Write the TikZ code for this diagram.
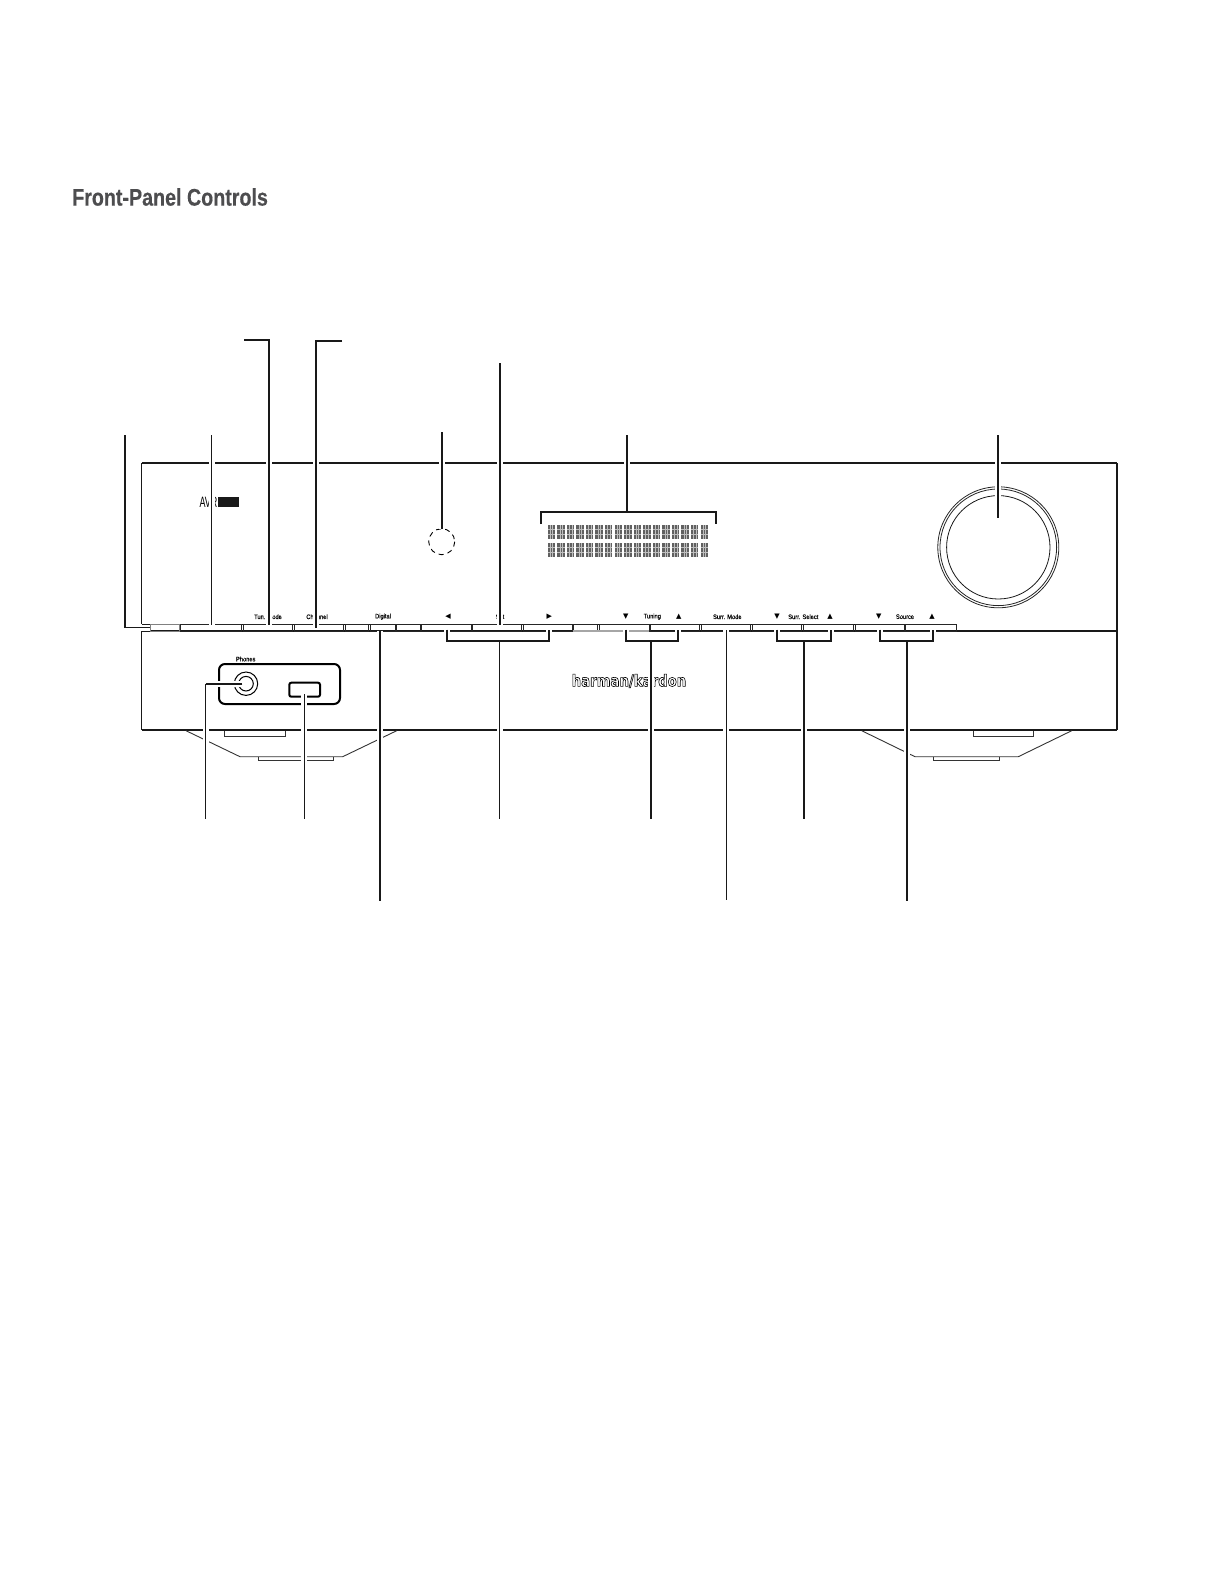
\documentclass[tikz,border=0pt]{standalone}
\usepackage{fontspec}
\setmainfont{Liberation Sans}
\newfontfamily\titlefont[FakeStretch=0.82,FakeBold=0.4]{Liberation Sans}
\newfontfamily\narrowfont[FakeStretch=0.88,FakeBold=0.1]{Liberation Sans}
\newfontfamily\avrfont[FakeStretch=0.6]{Liberation Sans}
\newfontfamily\symfont{DejaVu Sans}
\newfontfamily\logofont[FakeStretch=0.83]{DejaVu Sans}
\definecolor{titlegray}{HTML}{4D4D4F}
\newcommand{\lcdchar}[2]{%
  \fill[black!62] (#1,#2) rectangle ++(7.4,14);
  \draw[black!25,line width=.5pt] (#1+2.5,#2) -- ++(0,14) (#1+5,#2) -- ++(0,14)
    (#1,#2+4.6) -- ++(7.4,0) (#1,#2+9.3) -- ++(7.4,0);}
\begin{document}
\begin{tikzpicture}[x=1pt,y=-1pt,
    panel/.style={line width=1.3pt,black!90},
    btn/.style={line width=1pt,black!85},
    foot/.style={line width=.9pt,black!80},
    lab/.style={font=\narrowfont\fontsize{6.5}{7}\selectfont,inner sep=0pt},
    sym/.style={font=\symfont\fontsize{7}{8}\selectfont,inner sep=0pt},
    halo/.style={draw=white,line width=6pt},
    wire/.style={line width=2pt,black!90},
    wirethin/.style={line width=1.5pt,black!90},
    lead/.style={preaction={halo},wire},
    leadthin/.style={preaction={halo},wirethin}]
  \useasboundingbox (0,0) rectangle (1224,1584);
  \node[anchor=west,inner sep=0pt,text=titlegray,font=\titlefont\bfseries\fontsize{24}{28}\selectfont] (title) at (72,197) {Front-Panel Controls};
  % cabinet
  \draw[panel,line width=2pt] (141.5,463.3) -- (1117,463.3);
  \draw[panel] (141.5,463.3) -- (141.5,624);
  \draw[panel] (1117,463.3) -- (1117,730);
  \draw[panel] (141.5,631) -- (141.5,730);
  \draw[panel,line width=2.5pt] (141.5,730) -- (1117,730);
  \draw[panel] (141.5,631) -- (1117,631);
  \draw[panel,line width=1.6pt] (141.5,624.3) -- (956,624.3);
  % buttons
  \draw[btn,gray] (150,624.5) rectangle (179,631);
  \foreach \xa/\xb in {180/241.7,243.3/292.7,294.3/343.3,345.3/368.7,370/395,396/420,
      421.3/471.7,472.7/521.7,523.3/572.7,573.3/597.7,599/649,650/699.3,701/750.7,
      752.3/801.7,803.3/853.3,855/904.3,905.7/956}
    \draw[btn] (\xa,624.5) rectangle (\xb,631);
  \draw[gray!70,line width=1.2pt] (573.3,631) -- (649,631);
  % feet
  \draw[foot] (186,730.7) -- (240,756.7) -- (342.7,756.7) -- (396.7,730.7);
  \draw[foot] (224.3,730.7) -- (224.3,736.3) -- (285,736.3) -- (285,730.7);
  \draw[foot] (258.3,756.7) -- (258.3,760) -- (333.3,760) -- (333.3,756.7);
  \draw[foot] (861.7,730.7) -- (915,756.7) -- (1018.3,756.7) -- (1071.7,730.7);
  \draw[foot] (973.3,730.7) -- (973.3,736.3) -- (1033.3,736.3) -- (1033.3,730.7);
  \draw[foot] (933.3,756.7) -- (933.3,760) -- (999.3,760) -- (999.3,756.7);
  % logo and sensor
  \node[anchor=west,inner sep=0pt,font=\avrfont\fontsize{15}{16}\selectfont] (avr) at (199.3,502) {AVR};
  \fill[black!90] (218.3,497) rectangle (239,507);
  \draw[line width=.9pt,dash pattern=on 5pt off 4.2pt] (441.7,541.7) circle (13);
  % display
  \foreach \i in {0,...,16} {
    \lcdchar{547.7+9.55*\i}{525}
    \lcdchar{547.7+9.55*\i}{543}
  }
  % knob
  \draw[line width=.8pt,black!85] (998.3,547.3) circle (60.5) circle (58.3);
  \draw[line width=.8pt,black!90] (998.3,547.3) circle (51.7);
  % phones and usb
  \node[lab] (phones) at (245.7,659) {Phones};
  \draw[line width=2pt,rounded corners=6pt] (219,664) rectangle (340,704);
  \draw[line width=1pt] (246,683.7) circle (11.7) circle (7.3);
  \draw[line width=2pt,rounded corners=2pt] (289.3,682.7) rectangle (320,696.7);
  % brand
  \node[font=\logofont\bfseries\fontsize{16}{18}\selectfont,inner sep=0pt] (brand) at (629,681)
    {\special{pdf:code 1 Tr 0.6 w}harman/kardon\special{pdf:code 0 Tr}};
  % strip labels
  \node[lab] (tun) at (268,616.7) {Tun. Mode};
  \node[lab] (chan) at (317,616.7) {Channel};
  \node[lab] (dig) at (383,616.7) {Digital};
  \node[lab] (set) at (500,616.7) {Set};
  \node[lab] (tuning) at (652.3,616.7) {Tuning};
  \node[lab] (smode) at (727.3,616.7) {Surr. Mode};
  \node[lab] (ssel) at (803.3,616.7) {Surr. Select};
  \node[lab] (src) at (905,616.7) {Source};
  \node[sym] (setl) at (448,616.7) {◀};
  \node[sym] (setr) at (549.3,616.7) {▶};
  \node[sym] (tund) at (625.7,616.7) {▼};
  \node[sym] (tunu) at (678.7,616.7) {▲};
  \node[sym] (seld) at (777,616.7) {▼};
  \node[sym] (selu) at (830,616.7) {▲};
  \node[sym] (srcd) at (878.7,616.7) {▼};
  \node[sym] (srcu) at (932,616.7) {▲};
  % leader ends
  \coordinate (powA) at (125,435);
  \coordinate (powB) at (125,627.7);
  \coordinate (powC) at (150,627.7);
  \coordinate (avrA) at (211.7,435);
  \coordinate (avrB) at (211.7,625);
  \coordinate (tunA) at (244,340);
  \coordinate (tunB) at (269,340);
  \coordinate (tunC) at (269,625);
  \coordinate (chaA) at (342,341);
  \coordinate (chaB) at (316,341);
  \coordinate (chaC) at (316,628);
  \coordinate (irA) at (441.7,432);
  \coordinate (irB) at (441.7,529);
  \coordinate (setA) at (499.7,363);
  \coordinate (setB) at (499.7,625);
  \coordinate (lcdA) at (627.3,435);
  \coordinate (lcdB) at (627.3,511.7);
  \coordinate (lcdC) at (540.7,524);
  \coordinate (lcdD) at (540.7,511.7);
  \coordinate (lcdE) at (716,511.7);
  \coordinate (lcdF) at (716,524);
  \coordinate (volA) at (998,435);
  \coordinate (volB) at (998,517.7);
  % upper leaders
  \draw[leadthin] (powA) -- (powB) -- (powC);
  \draw[leadthin] (avrA) -- (avrB);
  \draw[lead] (tunA) -- (tunB) -- (tunC);
  \draw[lead] (chaA) -- (chaB) -- (chaC);
  \draw[lead] (irA) -- (irB);
  \draw[lead] (setA) -- (setB);
  \draw[lead] (lcdC) -- (lcdD) -- (lcdE) -- (lcdF) (lcdA) -- (lcdB);
  \draw[lead] (volA) -- (volB);
  % lower leaders
  \foreach \name/\xl/\xm/\xr/\yend/\sty in {set/447.3/499.7/549.3/819/wirethin,
      tune/625.7/651/677.7/819/wire,sel/777/804/831/819/wire,src/879.7/906.7/933/901/wire} {
    \coordinate (\name L) at (\xl,629.5);
    \coordinate (\name M) at (\xl,641);
    \coordinate (\name N) at (\xr,641);
    \coordinate (\name R) at (\xr,629.5);
    \coordinate (\name S) at (\xm,641);
    \coordinate (\name E) at (\xm,\yend);
    \draw[halo] (\name L) -- (\name M) -- (\name N) -- (\name R) (\name S) -- (\name E);
    \draw[\sty] (\name S) -- (\name E);
    \draw[wire] (\name L) -- (\name M) -- (\name N) -- (\name R);
  }
  \coordinate (digA) at (380,630.7);
  \coordinate (digB) at (380,901);
  \coordinate (modA) at (726.3,630);
  \coordinate (modB) at (726.3,900);
  \coordinate (jackA) at (242.3,683.7);
  \coordinate (jackB) at (205.7,683.7);
  \coordinate (jackC) at (205.7,819);
  \coordinate (usbA) at (304.3,694);
  \coordinate (usbB) at (304.3,819);
  \draw[lead] (digA) -- (digB);
  \draw[leadthin] (modA) -- (modB);
  \draw[halo] (jackA) -- (jackB) -- (jackC);
  \draw[wirethin] (jackB) -- (jackC);
  \draw[wire] (jackA) -- (jackB);
  \draw[leadthin] (usbA) -- (usbB);
\end{tikzpicture}
\end{document}
